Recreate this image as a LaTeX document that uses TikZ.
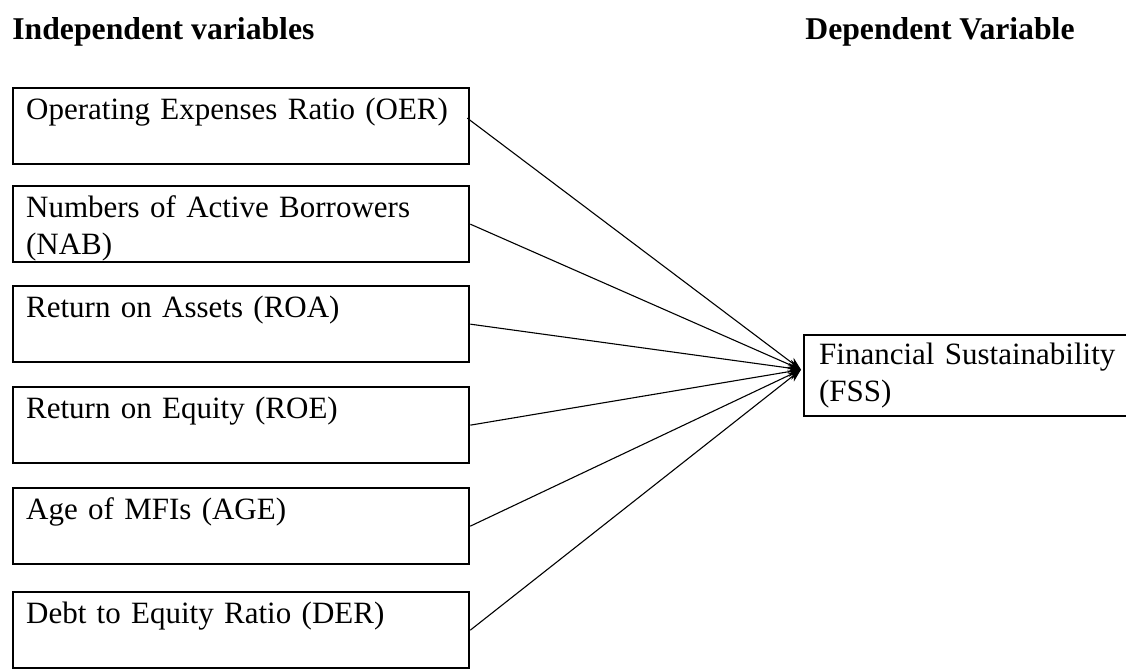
\documentclass[tikz,border=0pt]{standalone}
\usepackage{fontspec}
\setmainfont{Liberation Serif}
\usetikzlibrary{arrows.meta}
\newcommand\firststrut{\rule{0pt}{15.5pt}}
\newcommand\laststrut{\rule[-4pt]{0pt}{4pt}}
\begin{document}
\begin{tikzpicture}[x=0.5pt,y=-0.5pt,
  every node/.style={font=\fontsize{15.5pt}{18.5pt}\selectfont},
  varbox/.style={draw, line width=1.15pt, anchor=north west, inner xsep=6.5pt,
    inner ysep=0pt, text width=215pt, minimum width=228pt, minimum height=38pt,
    align=left},
  heading/.style={anchor=base west, inner sep=0pt,
    font=\fontsize{15.85pt}{18.5pt}\selectfont\bfseries},
  link/.style={line width=0.55pt, -{Stealth[length=6.5pt,width=5pt]}}]
\useasboundingbox (0,0) rectangle (1126,670);
\node[heading] (hind) at (12,39) {Independent variables};
\node[heading] (hdep) at (805,39) {Dependent Variable};
\node[varbox] (oer) at (12,87)  {\firststrut\mbox{Operating Expenses Ratio (OER)}\\\laststrut};
\node[varbox] (nab) at (12,185) {\firststrut\mbox{Numbers of Active Borrowers}\\(NAB)\laststrut};
\node[varbox] (roa) at (12,285) {\firststrut\mbox{Return on Assets (ROA)}\\\laststrut};
\node[varbox] (roe) at (12,386) {\firststrut\mbox{Return on Equity (ROE)}\\\laststrut};
\node[varbox] (age) at (12,487) {\firststrut\mbox{Age of MFIs (AGE)}\\\laststrut};
\node[varbox] (der) at (12,591) {\firststrut\mbox{Debt to Equity Ratio (DER)}\\\laststrut};
\node[varbox, text width=160pt, minimum width=167pt, inner xsep=7.5pt, minimum height=40.5pt]
  (fss) at (803,334) {\rule{0pt}{14.5pt}\mbox{Financial Sustainability}\\(FSS)\rule[-7.5pt]{0pt}{7.5pt}};
\coordinate (hub) at ([xshift=-1pt,yshift=3pt]fss.west);
\coordinate (s1) at ([xshift=-1.5pt,yshift=4pt]oer.east);
\draw[link] (s1) -- (hub);
\draw[link] (nab.east) -- (hub);
\draw[link] (roa.east) -- (hub);
\draw[link] (roe.east) -- (hub);
\draw[link] (age.east) -- (hub);
\draw[link] (der.east) -- (hub);
\end{tikzpicture}
\end{document}
